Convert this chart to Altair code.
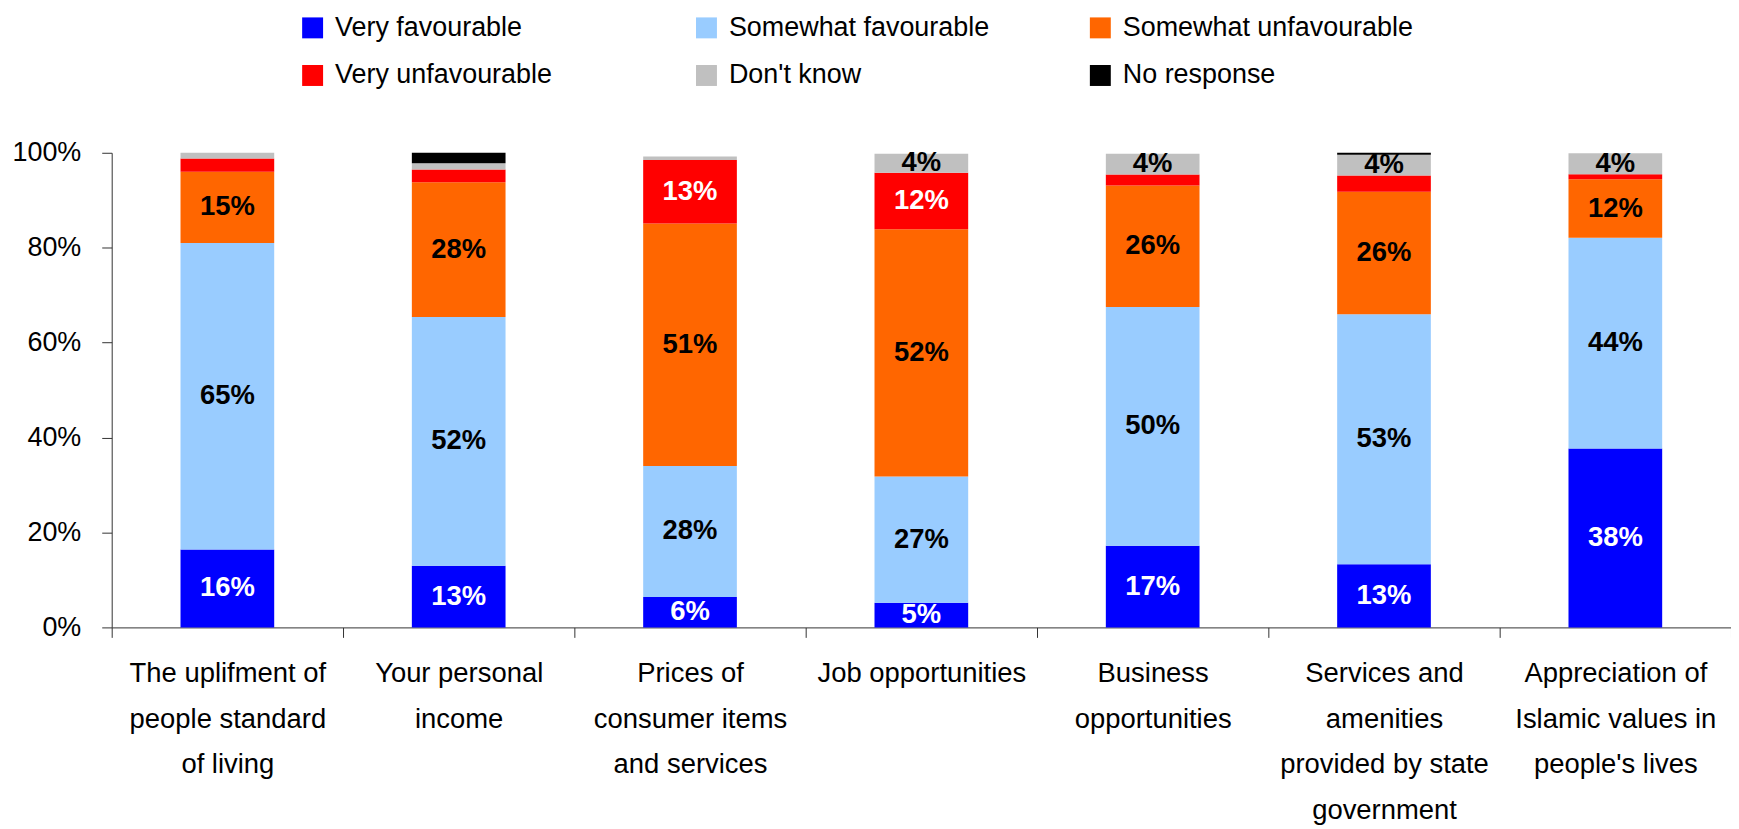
import altair as alt
import pandas as pd

categories = [
    "The uplifment of|people standard|of living",
    "Your personal|income",
    "Prices of|consumer items|and services",
    "Job opportunities",
    "Business|opportunities",
    "Services and|amenities|provided by state|government",
    "Appreciation of|Islamic values in|people's lives",
]
series = ["Very favourable", "Somewhat favourable", "Somewhat unfavourable",
          "Very unfavourable", "Don't know", "No response"]
colors = ["#0000FF", "#99CCFF", "#FF6600", "#FF0000", "#C0C0C0", "#000000"]

very_fav = [16.4, 13.0, 6.4, 5.2, 17.2, 13.3, 37.7]
somewhat_fav = [64.6, 52.4, 27.6, 26.6, 50.3, 52.7, 44.4]
somewhat_unfav = [15.0, 28.4, 51.1, 52.1, 25.6, 25.8, 12.3]
very_unfav = [2.8, 2.7, 13.4, 11.9, 2.3, 3.4, 1.1]
dont_know = [1.2, 1.3, 0.7, 4.0, 4.4, 4.4, 4.4]
no_response = [0.0, 2.2, 0.0, 0.0, 0.0, 0.4, 0.0]
y_ticks = [0, 20, 40, 60, 80, 100]

values = [very_fav, somewhat_fav, somewhat_unfav, very_unfav, dont_know, no_response]
rows = []
for si, (name, vals) in enumerate(zip(series, values)):
    for cat, v in zip(categories, vals):
        rows.append({"category": cat, "series": name, "order": si, "value": v})
df = pd.DataFrame(rows)

FONT = "Liberation Sans, Arial, sans-serif"

base = alt.Chart(df).transform_stack(
    stack="value", groupby=["category"], as_=["y0", "y1"],
    sort=[alt.SortField("order", order="ascending")]
).transform_calculate(
    mid="(datum.y0 + datum.y1) / 2",
    label="format(datum.value, '.0f') + '%'"
)

x_enc = alt.X(
    "category:N", sort=categories,
    scale=alt.Scale(paddingInner=0, paddingOuter=0),
    axis=alt.Axis(title=None, labelExpr="split(datum.label, '|')", labelAngle=0,
                  tickBand="extent", tickSize=10, labelPadding=22,
                  labelLineHeight=46, labelFontSize=27.5, labelBaseline="top",
                  labelLimit=600),
)

bars = base.mark_bar(width=alt.RelativeBandSize(0.405)).encode(
    x=x_enc,
    y=alt.Y("y0:Q", scale=alt.Scale(domain=[0, 100], nice=False),
            axis=alt.Axis(title=None, values=y_ticks, labelExpr="datum.value + '%'",
                          grid=False, tickSize=10, labelPadding=21, labelFontSize=27)),
    y2="y1:Q",
    color=alt.Color("series:N", scale=alt.Scale(domain=series, range=colors),
                    legend=alt.Legend(title=None, orient="none", legendX=188, legendY=-139,
                                      columns=3, direction="horizontal", gridAlign="all",
                                      symbolType="square", symbolSize=441, symbolStrokeWidth=0,
                                      labelFontSize=27, labelFont=FONT, labelLimit=600,
                                      labelOffset=9, rowPadding=20, columnPadding=67,
                                      padding=0)),
)

texts = base.transform_filter("datum.value >= 3.5").mark_text(
    font=FONT, fontWeight="bold", fontSize=27.5, baseline="middle"
).encode(
    x=alt.X("category:N", sort=categories),
    y=alt.Y("mid:Q"),
    text="label:N",
    color=alt.condition(
        "datum.series == 'Very favourable' || datum.series == 'Very unfavourable'",
        alt.value("white"), alt.value("black")),
)

chart = alt.layer(bars, texts).properties(
    width=1624, height=476,
    autosize=alt.AutoSizeParams(type="none"),
    padding={"left": 104, "top": 144, "right": 0, "bottom": 200},
).configure_view(stroke=None).configure_axis(
    labelFont=FONT, labelColor="black", domainColor="#333333", tickColor="#333333",
    domainWidth=1, tickWidth=1,
)

chart.save("out.html", embed_options={"renderer": "svg", "actions": False})
